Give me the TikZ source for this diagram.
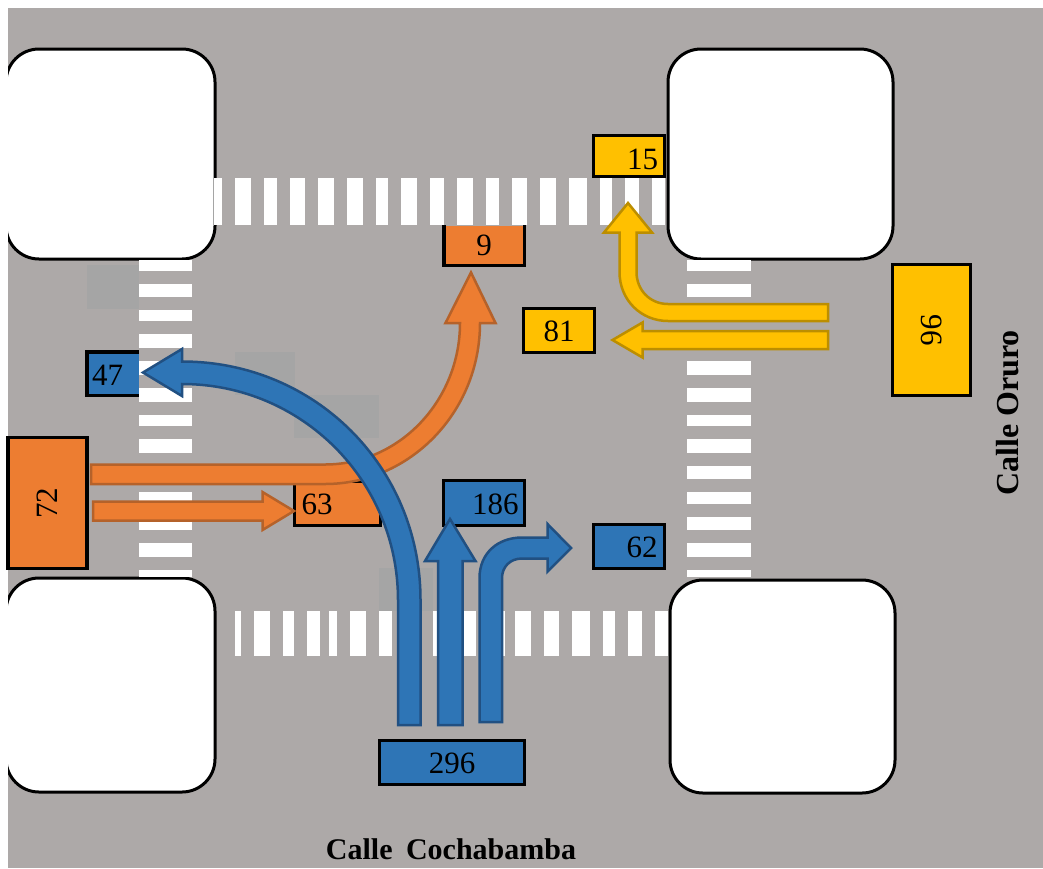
\documentclass[tikz,border=0pt]{standalone}
\usepackage{fontspec}
\setmainfont{Liberation Serif}
\definecolor{road}{HTML}{ADA9A8}
\definecolor{patch}{HTML}{A5A5A5}
\definecolor{flowblue}{HTML}{2E75B6}
\definecolor{edgeblue}{HTML}{215082}
\definecolor{floworange}{HTML}{ED7D31}
\definecolor{edgeorange}{HTML}{B5622A}
\definecolor{flowyellow}{HTML}{FFC000}
\definecolor{edgeyellow}{HTML}{BC8E00}
\newcommand{\lowered}[2]{\raisebox{-#1}[\height][0pt]{#2}}
\begin{document}
\begin{tikzpicture}[x=1pt, y=-1pt,
    block/.style={draw=black, line width=3pt, fill=white, rounded corners=33pt},
    count/.style={draw=black, line width=3.4pt, inner sep=0pt, font=\fontsize{31}{33}\selectfont},
    open/.style={fill=#1, inner sep=0pt, font=\fontsize{31}{33}\selectfont},
    bluearrow/.style={fill=flowblue, draw=edgeblue, line width=2.5pt},
    orangearrow/.style={fill=floworange, draw=edgeorange, line width=2.5pt},
    yellowarrow/.style={fill=flowyellow, draw=edgeyellow, line width=2.5pt}]

    \useasboundingbox (0,0) rectangle (1043,868);

    % Road and city blocks
    \fill[road] (8,8) rectangle (1043,868);
    \fill[patch] (87,265) rectangle (139,309);
    \fill[patch] (235,352) rectangle (295,395);
    \fill[patch] (294,395) rectangle (379,438);
    \fill[patch] (379,568) rectangle (433,611);
    \begin{scope}
        \clip (8,8) rectangle (1043,868);
        \draw[block] (6,49) rectangle (215,259);
        \draw[block] (668,49) rectangle (893,259);
        \draw[block] (6,578) rectangle (215,792);
        \draw[block] (670,580) rectangle (895,793);
    \end{scope}

    % Count boxes
    \node[open=flowblue, minimum width=52pt, minimum height=43pt, text width=42pt, align=left] at (113,373.5) (N47) {\lowered{1.5pt}{47}};
    \draw[line width=3.4pt] (N47.north east) -- (N47.north west) -- (N47.south west) -- (N47.south east);
    \node[open=floworange, minimum width=80pt, minimum height=40pt] at (484,245.5) (N9) {9};
    \draw[line width=3.4pt] (N9.north west) -- (N9.south west) -- (N9.south east) -- (N9.north east);
    \node[count, fill=floworange, minimum width=131pt, minimum height=79pt, rotate=90] at (47.5,503) (N72) {72};
    \node[count, fill=floworange, minimum width=86pt, minimum height=44pt, text width=72pt, align=left] at (337.5,503.5) (N63) {\lowered{1pt}{63}};
    \node[count, fill=flowblue, minimum width=81pt, minimum height=45pt, text width=69pt, align=right] at (484,503) (N186) {\lowered{1.5pt}{186}};
    \node[count, fill=flowblue, minimum width=71pt, minimum height=44pt, text width=57pt, align=right] at (629,546.5) (N62) {\lowered{1pt}{62}};
    \node[count, fill=flowblue, minimum width=145pt, minimum height=44pt] at (452,762.5) (N296) {\lowered{1pt}{296}};
    \node[count, fill=flowyellow, minimum width=71pt, minimum height=44pt] at (559,330.5) (N81) {\lowered{1pt}{81}};
    \node[count, fill=flowyellow, minimum width=71pt, minimum height=41pt, text width=58pt, align=right] at (629,156) (N15) {\lowered{3pt}{15}};
    \node[count, fill=flowyellow, minimum width=131pt, minimum height=78pt, rotate=270] at (931.5,330) (N96) {96};

    % Crossings
    \foreach \a/\b in {214/222, 235/251, 264/277, 290/305, 318/334, 347/363, 376/388, 401/417, 430/444,
        457/473, 486/499, 512/527, 540/556, 569/587, 600/612, 625/639, 652/665}
        \fill[white] (\a,178) rectangle (\b,225);
    \foreach \a/\b in {235/241, 254/270, 283/294, 307/320, 329/337, 350/366, 379/392, 405/421, 433/447,
        464/476, 490/505, 515/531, 544/559, 572/590, 603/615, 628/642, 655/668}
        \fill[white] (\a,611) rectangle (\b,656);
    \foreach \a/\b in {260/271, 284/297, 310/321, 334/348, 361/375, 388/402, 415/426, 439/453, 466/479,
        492/504, 517/530, 543/557, 570/577} {
        \fill[white] (139,\a) rectangle (192,\b);
        \fill[white] (687,\a) rectangle (751,\b);
    }

    % Orange arrows
    \draw[orangearrow] (91,464.5) -- (325,464.5) .. controls (400,464.5) and (460,400) .. (460,323)
        -- (445.5,323) -- (471,272.5) -- (495.5,323) -- (480,323) .. controls (480,412) and (410,484) .. (325,484) -- (91,484) -- cycle;
    \draw[orangearrow] (93,501.5) -- (262.5,501.5) -- (262.5,492) -- (294,511) -- (262.5,530) -- (262.5,520.5) -- (93,520.5) -- cycle;

    % Blue arrows
    \draw[bluearrow] (398,725) -- (398,600) .. controls (398,481) and (302,384) .. (182,384)
        -- (182,396) -- (143,372.5) -- (182,349) -- (182,361.5) .. controls (315,361.5) and (420.5,467) .. (420.5,600) -- (420.5,725) -- cycle;
    \draw[bluearrow] (438,725) -- (438,561) -- (425,561) -- (450,519) -- (475.5,561) -- (462.5,561) -- (462.5,725) -- cycle;
    \draw[bluearrow] (479.5,722) -- (479.5,578) .. controls (479.5,553) and (498,537.5) .. (522,537.5) -- (547.5,537.5)
        -- (547.5,524) -- (571,548) -- (547.5,571.5) -- (547.5,558.5) -- (522,558.5) .. controls (510,558.5) and (502,567) .. (502,578) -- (502,722) -- cycle;

    % Yellow arrows
    \draw[yellowarrow] (828,304) -- (668,304) .. controls (650,304) and (636.5,290) .. (636.5,272) -- (636.5,232.5) -- (652,232.5)
        -- (628,203) -- (604,232.5) -- (619.5,232.5) -- (619.5,272) .. controls (619.5,300) and (641,321) .. (668,321) -- (828,321) -- cycle;
    \draw[yellowarrow] (828,331) -- (642.5,331) -- (642.5,322.5) -- (612.5,340) -- (642.5,357.5) -- (642.5,349) -- (828,349) -- cycle;

    % Labels
    \node[font=\fontsize{30}{32}\selectfont\bfseries] at (451,849) (Cochabamba) {Calle\hspace{6pt} Cochabamba};
    \node[font=\fontsize{32}{34}\selectfont\bfseries, rotate=90] at (1008,413) (Oruro) {Calle Oruro};

\end{tikzpicture}
\end{document}
